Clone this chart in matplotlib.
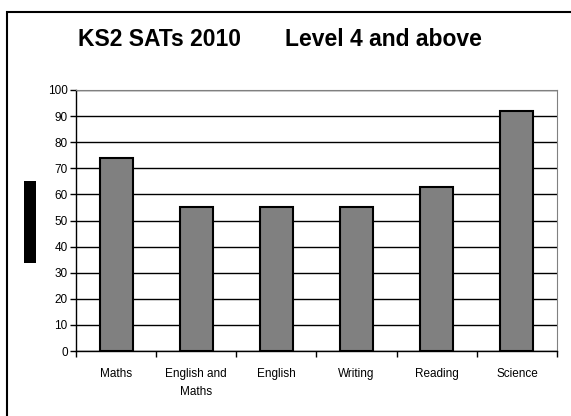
import matplotlib
matplotlib.use('Agg')
import matplotlib.pyplot as plt
from matplotlib.patches import Rectangle

# Datos
subjects = ['Maths', 'English and\nMaths', 'English', 'Writing', 'Reading', 'Science']
pct_level4 = [74, 55, 55, 55, 63, 92]
y_ticks = list(range(0, 101, 10))

plt.rcParams['font.family'] = ['Liberation Sans', 'DejaVu Sans']

W, H = 571, 416
fig = plt.figure(figsize=(W / 100, H / 100), dpi=100)

# marco exterior del gráfico
fig.patches.append(Rectangle((7 / W, -0.05), 1.1, 1 - 12 / H + 0.05,
                             transform=fig.transFigure, fill=False,
                             edgecolor='black', linewidth=1.5))
# bloque negro del título del eje y
fig.patches.append(Rectangle((24 / W, 1 - 263 / H), 12 / W, 82 / H,
                             transform=fig.transFigure, facecolor='black',
                             edgecolor='none'))

ax = fig.add_axes([76 / W, 1 - 351 / H, 481 / W, 261 / H])
x = range(len(subjects))
ax.bar(x, pct_level4, width=0.41, color='#808080', edgecolor='black',
       linewidth=1.5, zorder=3)

ax.set_xlim(-0.5, len(subjects) - 0.5)
ax.set_ylim(0, 100)
ax.set_yticks(y_ticks)
ax.set_yticklabels([str(t) for t in y_ticks], fontsize=8.5)
ax.set_xticks(list(x))
ax.set_xticklabels(subjects, fontsize=8.5, linespacing=1.75)
ax.set_xticks([i + 0.5 for i in range(-1, len(subjects))], minor=True)
ax.tick_params(axis='x', which='major', length=0, pad=12)
ax.tick_params(axis='x', which='minor', length=4, direction='out', width=1)
ax.tick_params(axis='y', length=4, direction='out', width=1, pad=2)
ax.grid(axis='y', color='black', linewidth=1, zorder=0)

for side in ['left', 'bottom']:
    ax.spines[side].set_linewidth(1)
ax.spines['right'].set_color('#808080')
ax.spines['top'].set_color('#808080')

fig.text(78 / W, 1 - 40 / H, 'KS2 SATs 2010', ha='left', va='center',
         fontsize=16.5, fontweight='bold')
fig.text(285 / W, 1 - 40 / H, 'Level 4 and above', ha='left', va='center',
         fontsize=16.5, fontweight='bold')

fig.savefig('out.png', dpi=100)
